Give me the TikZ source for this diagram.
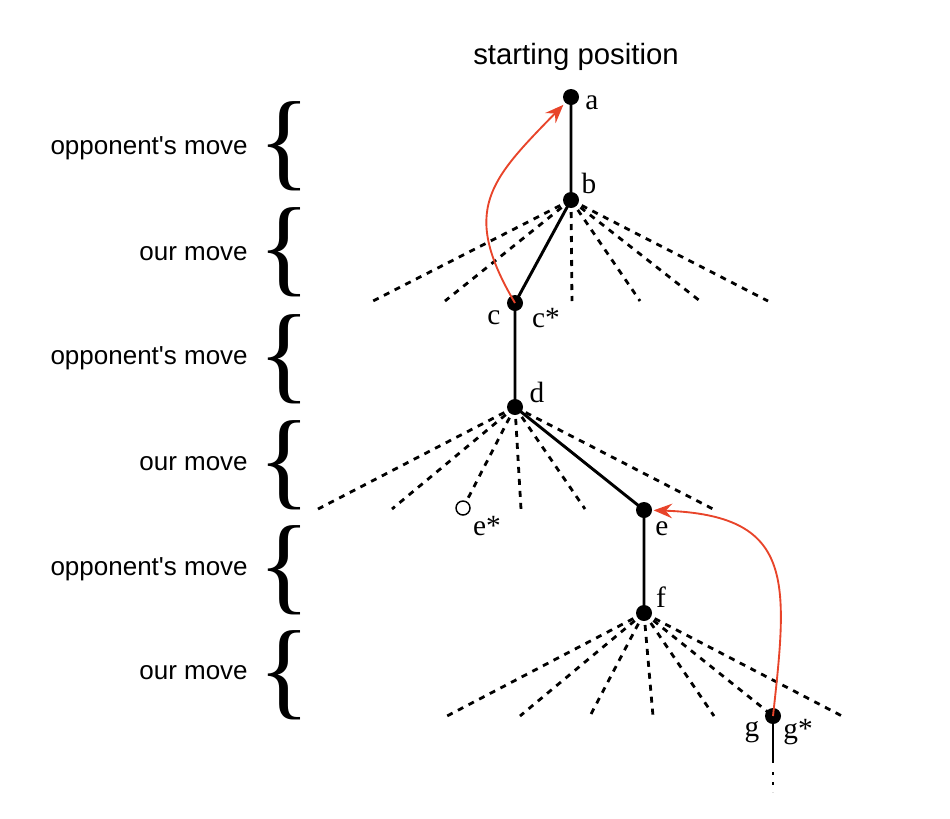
\documentclass[tikz,border=0pt]{standalone}
\usepackage{fontspec}
\setmainfont{Liberation Serif}
\setsansfont{Liberation Sans}
\usetikzlibrary{arrows.meta}
\definecolor{arrred}{RGB}{232,68,42}
\newcommand\mvbrace{{\fontsize{81}{81}\selectfont\{}}
\begin{document}
\begin{tikzpicture}[x=0.75pt,y=-0.75pt,
  dot/.style={circle,fill=black,inner sep=0pt,minimum size=12pt},
  opendot/.style={circle,draw=black,line width=1.1pt,fill=white,inner sep=0pt,minimum size=10.5pt},
  tree/.style={line width=2.2pt},
  alt/.style={line width=2.1pt,dash pattern=on 4.5pt off 4.5pt},
  lbl/.style={font=\fontsize{22}{26}\selectfont,inner sep=0pt},
  side/.style={font=\sffamily\fontsize{19.5}{23}\selectfont,anchor=east,inner sep=0pt},
  brc/.style={inner sep=0pt},
  back/.style={draw=arrred,line width=1.4pt,-{Stealth[length=14pt,width=11pt,inset=5pt]}},
]
\useasboundingbox (0,0) rectangle (950,818);

% title
\node[font=\sffamily\fontsize{22}{26}\selectfont] (title) at (576,57) {starting position};

% side labels and braces
\node[side] (l1) at (248,148) {opponent\textquotesingle s move};
\node[side] (l2) at (248,254) {our move};
\node[side] (l3) at (248,358) {opponent\textquotesingle s move};
\node[side] (l4) at (248,464) {our move};
\node[side] (l5) at (248,569) {opponent\textquotesingle s move};
\node[side] (l6) at (248,673) {our move};
\node[brc] (br1) at (284,146) {\mvbrace};
\node[brc] (br2) at (284,252) {\mvbrace};
\node[brc] (br3) at (284,359) {\mvbrace};
\node[brc] (br4) at (284,465) {\mvbrace};
\node[brc] (br5) at (284,570) {\mvbrace};
\node[brc] (br6) at (284,675) {\mvbrace};

% positions
\coordinate (a) at (571,97);
\coordinate (b) at (571,200);
\coordinate (c) at (515,303);
\coordinate (d) at (515,407);
\coordinate (e) at (644,510);
\coordinate (es) at (463,508);
\coordinate (f) at (644,613);
\coordinate (g) at (773,716);
\coordinate (gend) at (773,763);
\coordinate (gd1) at (773,772);
\coordinate (gd2) at (773,792);

% alternative moves from b
\foreach \i/\x in {1/373,2/445,3/572,4/640,5/700,6/768}{
  \coordinate (b\i) at (\x,301);
  \draw[alt] (b) -- (b\i);
}
% alternative moves from d
\foreach \i/\x in {1/318,2/392,3/521,4/585,5/713}{
  \coordinate (d\i) at (\x,509);
  \draw[alt] (d) -- (d\i);
}
\draw[alt] (d) -- (es);
% alternative moves from f
\foreach \i/\x in {1/447,2/520,3/590,4/653,5/714,6/842}{
  \coordinate (f\i) at (\x,716);
  \draw[alt] (f) -- (f\i);
}
\draw[alt] (f) -- (g);

% main line
\draw[tree] (a) -- (b) -- (c) -- (d) -- (e) -- (f);
\draw[tree] (g) -- (gend);
\draw[line width=2.2pt,dash pattern=on 2pt off 5.5pt] (gd1) -- (gd2);

% dots
\node[dot] (na) at (a) {};
\node[dot] (nb) at (b) {};
\node[dot] (nc) at (c) {};
\node[dot] (nd) at (d) {};
\node[dot] (ne) at (e) {};
\node[dot] (nf) at (f) {};
\node[dot] (ng) at (g) {};
\node[opendot] (nes) at (es) {};

% red back-up arrows
\draw[back,shorten >=2pt] (nc.center) .. controls (460,210) and (490,180) .. (na);
\draw[back,shorten >=1pt] (ng.center) .. controls (788,580) and (795,515) .. (ne);

% letters
\node[lbl] (ta) at (592,103) {a};
\node[lbl] (tb) at (589,183) {b};
\node[lbl] (tc) at (494,318) {c};
\node[lbl] (tcs) at (546,318) {c*};
\node[lbl] (td) at (537,392) {d};
\node[lbl] (tes) at (487,526) {e*};
\node[lbl] (te) at (662,529) {e};
\node[lbl] (tf) at (661,597) {f};
\node[lbl] (tg) at (752,732) {g};
\node[lbl] (tgs) at (798,732) {g*};
\end{tikzpicture}
\end{document}
